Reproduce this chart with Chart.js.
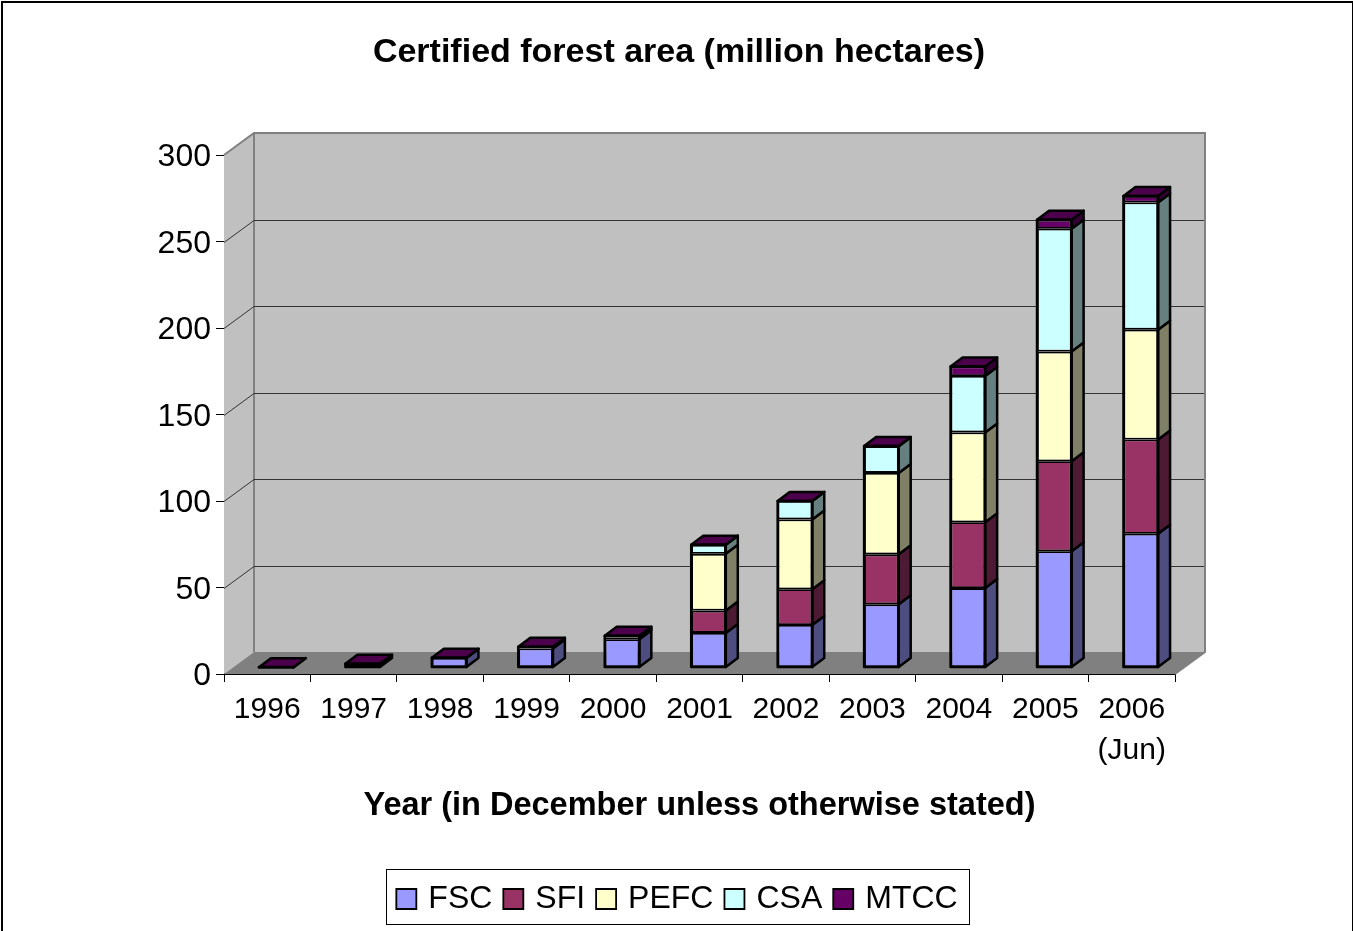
<!DOCTYPE html>
<html>
<head>
<meta charset="utf-8">
<title>Certified forest area</title>
<script src="https://cdn.jsdelivr.net/npm/chart.js@4"></script>
<style>
  html, body { margin: 0; padding: 0; background: #fff; overflow: hidden; }
  #forest-chart { display: block; }
</style>
</head>
<body>
<canvas id="forest-chart" width="1353" height="931"></canvas>
<script>
const years = ['1996', '1997', '1998', '1999', '2000', '2001', '2002', '2003', '2004', '2005', ['2006', '(Jun)']];

const fsc  = [0.1, 2, 5.5, 11, 16.4, 20, 24.6, 36.5, 45.9, 67.2, 77.3];
const sfi  = [0, 0, 0, 0.5, 1, 12.9, 20.6, 28.9, 38.1, 52, 54.5];
const pefc = [0, 0, 0, 0, 0, 32.8, 40.4, 47.1, 51.9, 63.4, 63.5];
const csa  = [0, 0, 0, 0, 0, 5.2, 10.6, 15.4, 32.6, 71, 73.5];
const mtcc = [0.1, 0.1, 0.1, 0.5, 1, 0.1, 0.1, 0.1, 5.5, 5.2, 3.8];

const seriesNames = ['FSC', 'SFI', 'PEFC', 'CSA', 'MTCC'];
const seriesValues = [fsc, sfi, pefc, csa, mtcc];
const frontColors = ['#9999ff', '#993366', '#ffffcc', '#ccffff', '#660066'];
const sideColors = ['#4d4d80', '#4d1a33', '#808066', '#668080', '#330033'];
const capColor = '#4c004c';

const yTicks = [0, 50, 100, 150, 200, 250, 300];

// depth of the box, and where the bars sit inside it
const boxDx = 30, boxDy = -22;
const barDx = 9, barDy = -6.5;
const sideDx = 12, sideDy = -9;

function poly(ctx, pts, fill, stroke, lw) {
  ctx.beginPath();
  pts.forEach((p, i) => i ? ctx.lineTo(p[0], p[1]) : ctx.moveTo(p[0], p[1]));
  ctx.closePath();
  if (fill) { ctx.fillStyle = fill; ctx.fill(); }
  if (stroke) { ctx.strokeStyle = stroke; ctx.lineWidth = lw; ctx.lineJoin = 'round'; ctx.stroke(); }
}

const box3d = {
  id: 'box3d',
  beforeDraw(chart) {
    const { ctx } = chart;
    ctx.save();
    ctx.fillStyle = '#fff';
    ctx.fillRect(0, 0, chart.width, chart.height);
    ctx.strokeStyle = '#000';
    ctx.lineWidth = 2;
    ctx.strokeRect(2, 2, chart.width - 2, chart.height + 10);
    ctx.restore();
  },
  // walls, floor and grid lines behind the bars
  beforeDatasetsDraw(chart) {
    const { ctx, chartArea: a, scales: { y } } = chart;
    const backL = a.left + boxDx, backR = a.right + boxDx;
    const backT = a.top + boxDy, backB = a.bottom + boxDy;
    ctx.save();
    poly(ctx, [[backL, backT], [backR, backT], [backR, backB], [backL, backB]], '#c0c0c0');
    poly(ctx, [[a.left, a.top], [backL, backT], [backL, backB], [a.left, a.bottom]], '#c0c0c0');
    poly(ctx, [[a.left, a.bottom], [backL, backB], [backR, backB], [a.right, a.bottom]], '#808080');

    ctx.strokeStyle = '#808080';
    ctx.lineWidth = 2;
    ctx.beginPath();
    ctx.moveTo(a.left, a.top);
    ctx.lineTo(backL, backT);
    ctx.lineTo(backR, backT);
    ctx.lineTo(backR, backB);
    ctx.lineTo(a.right, a.bottom);
    ctx.moveTo(backL, backT);
    ctx.lineTo(backL, backB);
    ctx.stroke();

    ctx.strokeStyle = '#333';
    ctx.lineWidth = 1;
    ctx.beginPath();
    yTicks.forEach(v => {
      if (v === 0 || v === 300) return;
      const py = Math.round(y.getPixelForValue(v)) + 0.5;
      ctx.moveTo(a.left, py);
      ctx.lineTo(backL, py + boxDy);
      ctx.lineTo(backR - 1, py + boxDy);
    });
    ctx.stroke();
    ctx.restore();

    // the stack is pushed back into the box until afterDatasetsDraw
    ctx.save();
    ctx.translate(barDx, barDy);
  },
  afterDatasetsDraw(chart) {
    const { ctx } = chart;
    years.forEach((year, j) => {
      seriesValues.forEach((vals, i) => {
        if (!(vals[j] > 0)) return;
        const bar = chart.getDatasetMeta(i).data[j];
        const right = bar.x + bar.width / 2;
        poly(ctx, [[right, bar.base], [right + sideDx, bar.base + sideDy], [right + sideDx, bar.y + sideDy], [right, bar.y]],
          sideColors[i], '#000', 2.5);
      });
      const bar = chart.getDatasetMeta(seriesValues.length - 1).data[j];
      const first = chart.getDatasetMeta(0).data[j];
      const left = bar.x - bar.width / 2, right = bar.x + bar.width / 2;
      poly(ctx, [[left, bar.y], [left + sideDx, bar.y + sideDy], [right + sideDx, bar.y + sideDy], [right, bar.y]],
        capColor, '#000', 2.5);
      // heavier outline round the whole stack, seams stay thin
      poly(ctx, [[left, bar.y], [right, bar.y], [right, first.base], [left, first.base]], null, '#000', 2.5);
    });
    ctx.restore();
  },
  // frame round the legend
  afterDraw(chart) {
    const { ctx } = chart;
    ctx.save();
    ctx.strokeStyle = '#000';
    ctx.lineWidth = 1;
    ctx.strokeRect(386.5, 869.5, 583, 55);
    ctx.restore();
  }
};

new Chart(document.getElementById('forest-chart'), {
  type: 'bar',
  data: {
    labels: years,
    datasets: seriesNames.map((name, i) => ({
      label: name,
      data: seriesValues[i],
      backgroundColor: frontColors[i],
      borderColor: '#000',
      borderWidth: 1.8,
      borderSkipped: false,
      barPercentage: 0.4,
      categoryPercentage: 1,
      clip: false
    }))
  },
  plugins: [box3d],
  options: {
    responsive: false,
    animation: false,
    layout: { padding: { left: 5, right: 0, top: 0, bottom: 6 } },
    scales: {
      x: {
        stacked: true,
        afterFit(scale) { scale.height = 194; },
        border: { display: true, color: '#000', width: 1 },
        grid: { drawOnChartArea: false, drawTicks: true, tickLength: 8, color: '#000', offset: true },
        ticks: {
          color: '#000',
          maxRotation: 0,
          autoSkip: false,
          padding: 7,
          font: { family: '"Liberation Sans"', size: 30, lineHeight: 1.37 }
        },
        title: {
          display: true,
          text: 'Year (in December unless otherwise stated)',
          color: '#000',
          padding: { top: 10, bottom: 42 },
          font: { family: '"Liberation Sans"', size: 32.5, weight: 'bold' }
        }
      },
      y: {
        stacked: true,
        min: 0,
        max: 300,
        afterFit(scale) { scale.width = 219; },
        afterBuildTicks(scale) { scale.ticks = yTicks.map(value => ({ value })); },
        border: { display: true, color: '#000', width: 1 },
        grid: { drawOnChartArea: false, drawTicks: true, tickLength: 8, color: '#000' },
        ticks: {
          color: '#000',
          padding: 5,
          // empty first line with a short line height sets the number a little below its tick
          callback: value => ['', String(value)],
          font: { family: '"Liberation Sans"', size: 32, lineHeight: '5px' }
        }
      },
      // empty axis that keeps the right margin free without narrowing title and legend
      margin: {
        type: 'linear',
        axis: 'y',
        position: 'right',
        min: 0,
        max: 1,
        afterFit(scale) { scale.width = 178; },
        border: { display: false },
        grid: { display: false },
        ticks: { display: false }
      }
    },
    plugins: {
      title: {
        display: true,
        text: 'Certified forest area (million hectares)',
        color: '#000',
        align: 'center',
        padding: { top: 32.6, bottom: 81.6 },
        font: { family: '"Liberation Sans"', size: 34, weight: 'bold' }
      },
      legend: {
        display: true,
        position: 'bottom',
        labels: {
          color: '#000',
          usePointStyle: true,
          pointStyle: 'rect',
          boxWidth: 12,
          boxHeight: 20,
          padding: 15,
          font: { family: '"Liberation Sans"', size: 32 }
        }
      },
      tooltip: { enabled: false }
    }
  }
});
</script>
</body>
</html>
